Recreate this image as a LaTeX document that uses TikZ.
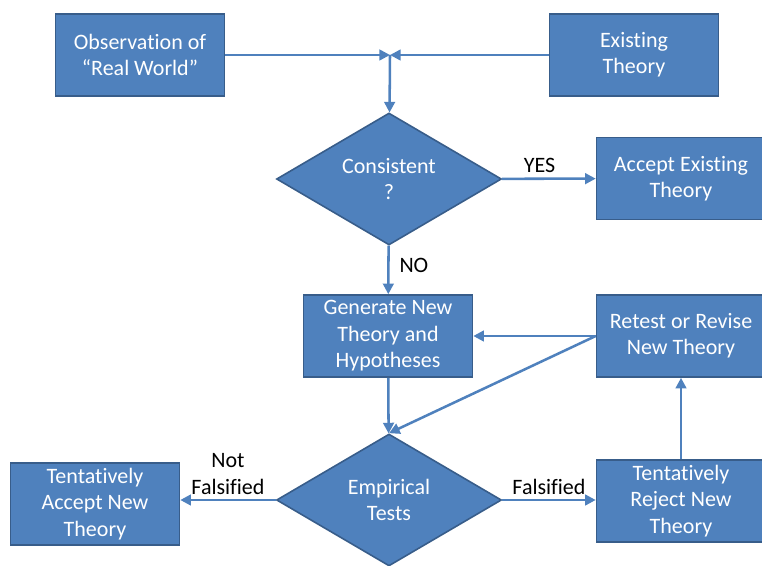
\documentclass[tikz,border=0pt]{standalone}
\usepackage{fontspec}
\setmainfont{Carlito}[Ligatures=NoCommon]
\usetikzlibrary{shapes.geometric,arrows.meta}
\definecolor{boxblue}{HTML}{4F81BD}
\definecolor{boxedge}{HTML}{385D8A}
\tikzset{
  box/.style={draw=boxedge, line width=1.2pt, fill=boxblue, text=white, align=center,
    minimum width=126.75pt, minimum height=61.5pt, inner sep=2pt,
    font=\fontsize{16.5}{19.8}\selectfont},
  decision/.style={diamond, draw=boxedge, line width=1.2pt, fill=boxblue, text=white,
    align=center, aspect=1.7, minimum width=168.75pt, minimum height=99pt, inner sep=0pt,
    font=\fontsize{16.5}{19.8}\selectfont},
  flow/.style={draw=boxblue, line width=1.9pt, >={Triangle[length=8pt,width=8pt]}, ->},
  lbl/.style={text=black, align=center, font=\fontsize{16.5}{19.8}\selectfont}
}
\begin{document}
\begin{tikzpicture}[x=0.75pt, y=-0.75pt]
  \useasboundingbox (0,0) rectangle (762,566);
  \node[box] (obs) at (140,55) {Observation of\\“Real World”};
  \node[box] (exist) at (634,55) {Existing\\Theory};
  \coordinate (junc) at (390,55);
  \node[decision] (cons) at (389,179) {Consistent\\?};
  \node[box] (acc) at (681,178.5) {Accept Existing\\Theory};
  \node[box] (gen) at (388,336) {Generate New\\Theory and\\Hypotheses};
  \node[box] (retest) at (681,336) {Retest or Revise\\New Theory};
  \node[decision] (emp) at (389,500) {Empirical\\Tests};
  \node[box] (tacc) at (95,504) {Tentatively\\Accept New\\Theory};
  \node[box] (trej) at (681,501) {Tentatively\\Reject New\\Theory};
  \draw[flow] (obs) -- (junc);
  \draw[flow] (exist) -- (junc);
  \draw[flow] (junc) -- (cons);
  \draw[flow] (cons) -- node[lbl, above, pos=.4] {YES} (acc);
  \draw[flow] (cons) -- node[lbl, right=4pt, pos=.4] {NO} (gen);
  \draw[flow] (retest.west) -- (gen.east |- retest.west);
  \draw[flow] (retest.west) -- (emp.north);
  \draw[flow] (gen) -- (emp);
  \draw[flow] (emp.west) -- node[lbl, above] {Not\\Falsified} (tacc.east |- emp.west);
  \draw[flow] (emp.east) -- node[lbl, above] {Falsified} (trej.west |- emp.east);
  \draw[flow] (trej) -- (retest);
\end{tikzpicture}
\end{document}
